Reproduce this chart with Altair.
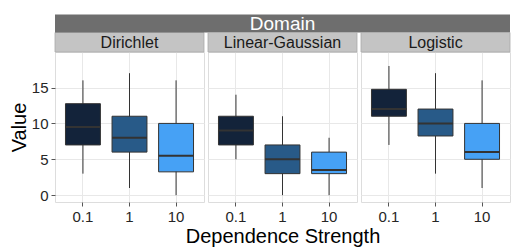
import altair as alt
import pandas as pd

domains = ["Dirichlet", "Linear-Gaussian", "Logistic"]
strengths = ["0.1", "1", "10"]
colors = ["#13233A", "#285A88", "#46A1F5"]

# box-plot statistics per domain, one value per strength (0.1, 1, 10)
lower = {"Dirichlet": [3, 1, 0], "Linear-Gaussian": [5, 0, 0], "Logistic": [7, 3, 1]}
q1 = {"Dirichlet": [7, 6, 3.25], "Linear-Gaussian": [7, 3, 3], "Logistic": [11, 8.25, 5]}
median = {"Dirichlet": [9.5, 8, 5.5], "Linear-Gaussian": [9, 5, 3.5], "Logistic": [12, 10, 6]}
q3 = {"Dirichlet": [12.75, 11, 10], "Linear-Gaussian": [11, 7, 6], "Logistic": [14.75, 12, 10]}
upper = {"Dirichlet": [16, 17, 16], "Linear-Gaussian": [14, 11, 8], "Logistic": [18, 17, 16]}

y_ticks = [0, 2.5, 5, 7.5, 10, 12.5, 15, 17.5]

W, H, GAP = 149, 150, 4
FONT = "Liberation Sans"
TXT = "#262626"

rows = []
for d in domains:
    for i, s in enumerate(strengths):
        rows.append(dict(domain=d, strength=s, lower=lower[d][i], q1=q1[d][i],
                         median=median[d][i], q3=q3[d][i], upper=upper[d][i]))
df = pd.DataFrame(rows)

grid_color = {"condition": {"test": "datum.value % 5 === 0", "value": "#E8E8E8"}, "value": "#F5F5F5"}
tick_op = {"condition": {"test": "datum.value % 5 === 0", "value": 1}, "value": 0}


def panel(idx, dom):
    d = df[df["domain"] == dom]
    first = idx == 0
    xaxis = alt.Axis(
        title="Dependence Strength" if idx == 1 else None,
        bandPosition=0.5, grid=True, gridColor="#E8E8E8", domain=False,
        tickSize=4, tickColor="#555555", labelAngle=0, labelFont=FONT, labelFontSize=15,
        labelColor=TXT, labelPadding=3, titleFont=FONT, titleFontSize=20,
        titleFontWeight="normal", titleColor="#000000", titlePadding=2,
    )
    yaxis = alt.Axis(
        values=y_ticks, title="Value" if first else None, grid=True, gridColor=grid_color,
        domain=False, labels=first, ticks=first, tickSize=4, tickColor="#555555",
        tickOpacity=tick_op, labelExpr="datum.value % 5 === 0 ? datum.label : ''",
        labelFont=FONT, labelFontSize=15, labelColor=TXT, labelPadding=3,
        labelOverlap=False, titleFont=FONT, titleFontSize=20, titleFontWeight="normal",
        titleColor="#000000", titlePadding=2,
    )
    x = alt.X("strength:N", sort=strengths,
              scale=alt.Scale(domain=strengths, paddingInner=0.25, paddingOuter=0.225),
              axis=xaxis)
    yscale = alt.Scale(domain=[-0.95, 19.95], nice=False, zero=False)
    base = alt.Chart(d)
    whisk = base.mark_rule(color="#333333", strokeWidth=1).encode(
        x=x, y=alt.Y("lower:Q", scale=yscale, axis=yaxis), y2="upper:Q")
    box = base.mark_bar(stroke="#333333", strokeWidth=1).encode(
        x=x, y=alt.Y("q1:Q", scale=yscale), y2="q3:Q",
        fill=alt.Fill("strength:N", sort=strengths,
                      scale=alt.Scale(domain=strengths, range=colors), legend=None))
    med = base.mark_bar(stroke="#333333", strokeWidth=2, fill="#333333").encode(
        x=x, y=alt.Y("median:Q", scale=yscale), y2="median:Q")

    lab = alt.Chart(pd.DataFrame({"label": [dom]}))
    strip = lab.mark_rect(fill="#C4C4C4", stroke="#AAAAAA", strokeWidth=0.8).encode(
        x=alt.value(0), x2=alt.value(W), y=alt.value(-19.5), y2=alt.value(0))
    strip_txt = lab.mark_text(font=FONT, fontSize=16, color="#1A1A1A", baseline="middle").encode(
        x=alt.value(W / 2), y=alt.value(-9.5), text="label:N")
    layers = [whisk, box, med, strip, strip_txt]
    if first:
        dl = alt.Chart(pd.DataFrame({"label": ["Domain"]}))
        dstrip = dl.mark_rect(fill="#6E6E6E").encode(
            x=alt.value(0), x2=alt.value(3 * W + 2 * GAP), y=alt.value(-37.5), y2=alt.value(-19.5))
        dtxt = dl.mark_text(font=FONT, fontSize=19, color="#FFFFFF", baseline="middle").encode(
            x=alt.value((3 * W + 2 * GAP) / 2), y=alt.value(-28.5), text="label:N")
        layers += [dstrip, dtxt]
    return alt.layer(*layers).properties(width=W, height=H)


chart = alt.hconcat(*[panel(i, d) for i, d in enumerate(domains)], spacing=GAP, bounds="flush").properties(
    padding={"left": 0, "top": 6, "right": 5, "bottom": 0}
).configure_view(stroke="#A8A8A8", strokeWidth=1).configure(font=FONT)

chart.save("out.html", embed_options={"renderer": "svg", "actions": False})
